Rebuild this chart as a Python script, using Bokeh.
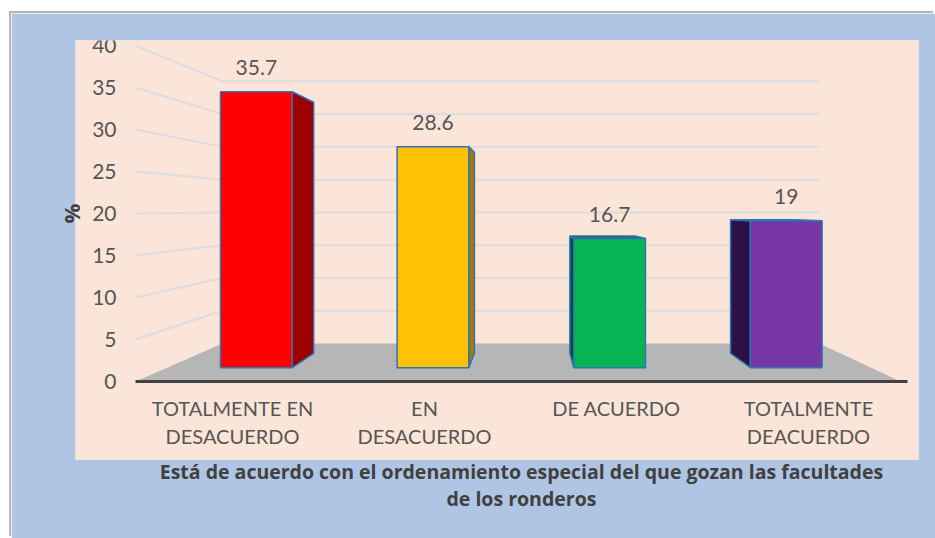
from bokeh.plotting import figure
from bokeh.models import FixedTicker, Range1d, Label
from bokeh.core.properties import value
from bokeh.embed import file_html
from bokeh.resources import INLINE

categories = ["TOTALMENTE EN\nDESACUERDO", "EN\nDESACUERDO", "DE ACUERDO", "TOTALMENTE\nDEACUERDO"]
values = [35.7, 28.6, 16.7, 19]
labels = ["35.7", "28.6", "16.7", "19"]
y_ticks = [0, 5, 10, 15, 20, 25, 30, 35, 40]
front_colors = ["#ff0000", "#ffc105", "#07b453", "#7636a3"]
side_colors = ["#9c0000", "#a67c00", "#004d33", "#2b1145"]
top_colors = ["#b02020", "#c89a00", "#0e6e4a", "#35205a"]
title = "Está de acuerdo con el ordenamiento especial del que gozan las facultades\nde los ronderos"

# perspective of the 3-D chart, in axis units
VX, VY = 1.552, 20.6      # vanishing point
S_FRONT, S_BACK, S_WALL = 0.92, 0.837, 0.78   # depth of bar faces and back wall
HALF = 0.203              # half bar width
FLOOR_L, FLOOR_R = -0.505, 3.48
AXIS_R = 3.516
FONT = "Lato"
TXT = "#565656"


def proj(x, v, s):
    return VX + (x - VX) * s, VY + (v - VY) * s


def quad(pts):
    xs, ys = zip(*(proj(*p) for p in pts))
    return list(xs), list(ys)


p = figure(width=924, height=525, output_backend="svg", toolbar_location=None,
           x_range=Range1d(-0.8177, 3.573), y_range=Range1d(-9.286, 40.595),
           min_border_left=64, min_border_right=17, min_border_top=27, min_border_bottom=79,
           frame_width=843, frame_height=419,
           border_fill_color="#b0c4e4", background_fill_color="#fae5d8", outline_line_color=None,
           styles={"margin-left": "11px", "margin-top": "13px", "box-shadow": "-2px -2px 0 0 #b4b4b4"})
p.grid.visible = False

# walls' gridlines
gx, gy = [], []
for t in y_ticks[1:]:
    a = proj(FLOOR_L, t, 1)
    b = proj(FLOOR_L, t, S_WALL)
    c = proj(FLOOR_R, t, S_WALL)
    gx.append([a[0], b[0], c[0]])
    gy.append([a[1], b[1], c[1]])
p.multi_line(gx, gy, line_color="#dcdde0", line_width=2)

# floor
fx, fy = quad([(FLOOR_L, 0, 1), (FLOOR_L, 0, S_WALL), (FLOOR_R, 0, S_WALL), (FLOOR_R, 0, 1)])
p.patch(fx, fy, fill_color="#b6b6b6", line_color=None)

EDGE = "#2f74b5"
for i, v in enumerate(values):
    l, r = i - HALF, i + HALF
    # the visible side looks toward the vanishing point
    e = r if r < VX else l
    sx, sy = quad([(e, 0, S_FRONT), (e, 0, S_BACK), (e, v, S_BACK), (e, v, S_FRONT)])
    p.patch(sx, sy, fill_color=side_colors[i], line_color=EDGE, line_width=1.5)
    if v < VY:
        tx, ty = quad([(l, v, S_FRONT), (l, v, S_BACK), (r, v, S_BACK), (r, v, S_FRONT)])
        p.patch(tx, ty, fill_color=top_colors[i], line_color=EDGE, line_width=1.5)
    x0, y0 = quad([(l, 0, S_FRONT), (l, v, S_FRONT), (r, v, S_FRONT), (r, 0, S_FRONT)])
    p.patch(x0, y0, fill_color=front_colors[i], line_color=EDGE, line_width=1.5)

lx, ly = zip(*(proj(i, v, S_FRONT) for i, v in enumerate(values)))
p.text(list(lx), list(ly), text=labels, text_align="center", text_baseline="middle", y_offset=-24,
       text_font=value(FONT), text_font_size="21px", text_color=TXT)

ya = p.yaxis[0]
ya.fixed_location = -0.557
ya.ticker = FixedTicker(ticks=y_ticks)
ya.axis_line_color = None
ya.major_tick_line_color = None
ya.minor_tick_line_color = None
ya.major_label_text_font = FONT
ya.major_label_text_font_size = "21px"
ya.major_label_text_color = TXT
ya.major_label_standoff = 3

p.add_layout(Label(x=-0.8177, y=20, x_offset=-5, text="%", angle=90, angle_units="deg",
                   text_align="center", text_baseline="middle", text_font="Open Sans",
                   text_font_style="bold", text_font_size="22px", text_color="#404040"), "left")

xa = p.xaxis[0]
xa.fixed_location = 0
xa.ticker = FixedTicker(ticks=[0, 1, 2, 3])
xa.major_label_overrides = {i: c for i, c in enumerate(categories)}
xa.bounds = (FLOOR_L, AXIS_R)
xa.axis_line_color = "#404040"
xa.axis_line_width = 3
xa.major_tick_line_color = None
xa.minor_tick_line_color = None
xa.major_label_text_font = FONT
xa.major_label_text_font_size = "20px"
xa.major_label_text_color = TXT
xa.major_label_text_line_height = 1.14
xa.major_label_standoff = 9

p.add_layout(Label(x=1.505, y=-12.32, text=title, text_align="center", text_baseline="middle",
                   text_font="Open Sans", text_font_style="bold", text_font_size="19.5px",
                   text_color="#404040", text_line_height=1.02), "below")

open("out.html", "w").write(file_html(p, INLINE))
